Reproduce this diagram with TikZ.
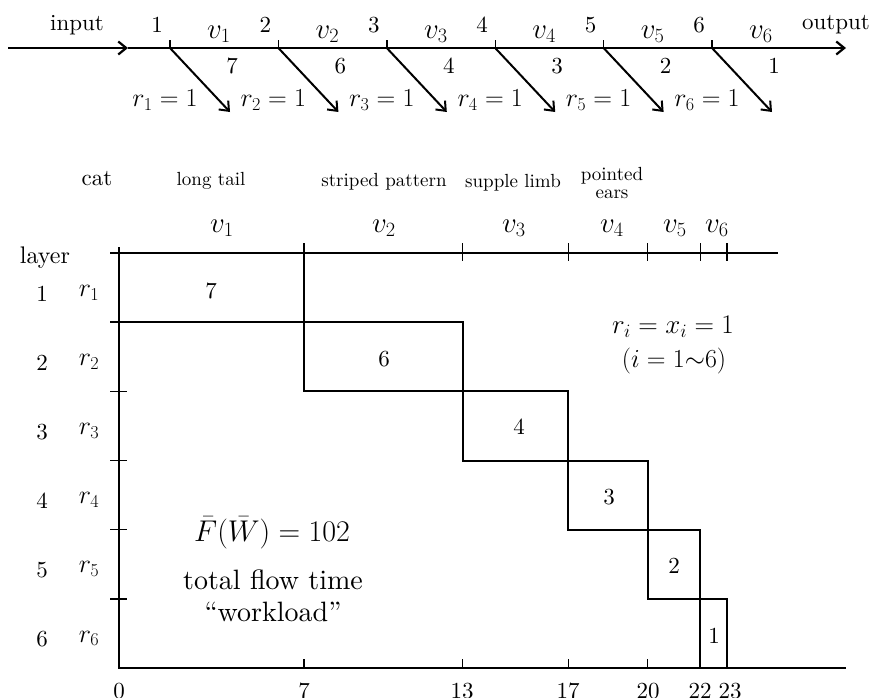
\RequirePackage{fix-cm}
\documentclass[tikz,border=0pt]{standalone}
\usepackage{fontspec}
\setmainfont{lmroman10-regular.otf}
\usetikzlibrary{arrows.meta}
\begin{document}
\begin{tikzpicture}[x=1pt,y=-1pt,
  axis/.style={line width=2.2pt},
  boxline/.style={line width=2pt},
  tip/.style={-{Straight Barb[length=8pt,width=13pt]}},
  arr/.style={line width=2pt,tip},
  lbl/.style={font=\fontsize{23}{27}\selectfont, inner sep=0pt},
  rlbl/.style={font=\fontsize{26}{30}\selectfont, inner sep=0pt},
  vlbl/.style={font=\fontsize{29}{33}\selectfont, inner sep=0pt},
  small/.style={font=\fontsize{19}{21}\selectfont, inner sep=0pt, align=center},
  big/.style={font=\fontsize{28}{33}\selectfont, inner sep=0pt},
  bigm/.style={font=\fontsize{30}{34}\selectfont, inner sep=0pt},
  mid/.style={font=\fontsize{27}{31}\selectfont, inner sep=0pt},
]
\useasboundingbox (0,0) rectangle (872,697);
% ---------- top flow line ----------
\coordinate (in) at (8,48);
\coordinate (mida) at (128,48);
\coordinate (out) at (846,48);
\draw[axis,tip] (in) -- (mida);
\draw[axis,tip] (mida) -- (out);
\node[lbl] (input) at (77,25) {input};
\node[lbl] (output) at (836,25) {output};
\foreach \i/\w in {1/7,2/6,3/4,4/3,5/2,6/1} {
  \pgfmathsetmacro{\x}{170+108.4*(\i-1)}
  \coordinate (t\i) at (\x,48);
  \coordinate (tt\i) at (\x,40);
  \coordinate (d\i) at (\x+60,112);
  \draw[line width=1.4pt] (t\i) -- (tt\i);
  \draw[arr] (t\i) -- (d\i);
  \node[lbl] (n\i) at (\x-13,25) {\i};
  \node[vlbl] (v\i) at (\x+49,34) {$v_{\i}$};
  \node[lbl] (w\i) at (\x+62,66) {\w};
  \node[rlbl] (r\i) at (\x-5,100) {$r_{\i} = 1$};
}
% ---------- chart ----------
\coordinate (o) at (119,668);
\coordinate (ytop) at (119,247);
\coordinate (xend) at (846,668);
\coordinate (tl) at (110,253);
\coordinate (tr) at (778,253);
\foreach \k/\s/\e in {1/0/7,2/7/13,3/13/17,4/17/20,5/20/22,6/22/23}
  \draw[boxline] ({119+26.43*\s},{253+69.17*(\k-1)}) rectangle ({119+26.43*\e},{253+69.17*\k});
\draw[axis] (ytop) -- (o) -- (xend);
\draw[axis] (tl) -- (tr);
\foreach \k in {1,...,5}
  \draw[line width=1.6pt] (110,{253+69.17*\k}) -- (127,{253+69.17*\k});
\foreach \u in {7,13,17,20,22,23}
  \draw[line width=1.6pt] ({119+26.43*\u},243) -- ({119+26.43*\u},261);
\foreach \u in {7,13,17,20}
  \draw[line width=1.6pt] ({119+26.43*\u},659) -- ({119+26.43*\u},668);
\foreach \u/\px in {0/119,7/304,13/462,17/568,20/648,22/700,23/730}
  \node[lbl] (b\u) at (\px,691) {\u};
% header labels
\node[lbl] (cat) at (97,179) {cat};
\node[small] (c1) at (211,181) {long tail};
\node[small] (c2) at (384,182) {striped pattern};
\node[small] (c3) at (513,183) {supple limb};
\node[small] (c4) at (612,183) {pointed\\[-3pt]ears};
\foreach \i/\px in {1/222,2/384,3/514,4/612,5/675,6/717}
  \node[vlbl] (h\i) at (\px,228) {$v_{\i}$};
\node[lbl,font=\fontsize{24}{28}\selectfont] (layer) at (45,258) {layer};
\foreach \k in {1,...,6} {
  \node[lbl] (l\k) at (42,{253+69.17*(\k-0.5)+6}) {\k};
  \node[rlbl] (rr\k) at (89,{253+69.17*(\k-0.5)+5}) {$r_{\k}$};
}
% box values
\node[lbl] (bv1) at (211,291) {7};
\node[lbl] (bv2) at (384,359) {6};
\node[lbl] (bv3) at (519,427) {4};
\node[lbl] (bv4) at (609,497) {3};
\node[lbl] (bv5) at (674,566) {2};
\node[lbl] (bv6) at (714,636) {1};
% annotations
\node[mid] (eq) at (673,327) {$r_i = x_i = 1$};
\node[rlbl] (rng) at (674,361) {$(i = 1{\sim}6)$};
\node[bigm] (F) at (272,533) {$\bar{F}(\bar{W}) = 102$};
\node[big] (tft) at (273,580) {total flow time};
\node[big] (wl) at (273,612) {``workload''};
\end{tikzpicture}
\end{document}
